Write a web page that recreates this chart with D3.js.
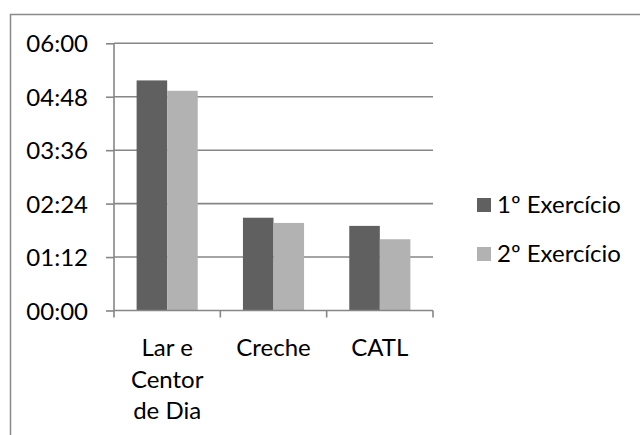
<!DOCTYPE html>
<html>
<head>
<meta charset="utf-8">
<script src="https://cdn.jsdelivr.net/npm/d3@7"></script>
<style>
  html, body { margin: 0; padding: 0; background: #fff; }
  svg { display: block; }
  text { font-family: Lato, "Open Sans", sans-serif; fill: #000; }
</style>
</head>
<body>
<svg id="chart" width="640" height="435"></svg>
<script>
// ---- data ----
const categories = [["Lar e", "Centor", "de Dia"], ["Creche"], ["CATL"]];
const seriesNames = ["1º Exercício", "2º Exercício"];
const series1 = ["05:10", "02:05", "01:54"];
const series2 = ["04:56", "01:58", "01:36"];
const yTicks = ["00:00", "01:12", "02:24", "03:36", "04:48", "06:00"];
const colors = ["#606060", "#b2b2b2"];

const toMin = s => { const [h, m] = s.split(":").map(Number); return h * 60 + m; };

const svg = d3.select("#chart");
const W = 640, H = 435;
const plot = { left: 114, right: 433, top: 43.3, bottom: 310.5 };
const fontSize = 24;

// frame
svg.append("path")
  .attr("d", `M10.5,${H} L10.5,14.5 L${W},14.5`)
  .attr("fill", "none").attr("stroke", "#8a8a8a").attr("stroke-width", 1.5);

const x0 = d3.scaleBand().domain(d3.range(categories.length))
  .range([plot.left, plot.right]).paddingInner(0).paddingOuter(0);
const x1 = d3.scaleBand().domain(d3.range(seriesNames.length))
  .range([0, x0.bandwidth()]).paddingOuter(0.74).paddingInner(0);
const y = d3.scaleLinear().domain([0, 360]).range([plot.bottom, plot.top]);

const grey = "#868686";

// gridlines
svg.append("g").selectAll("line").data(yTicks.map(toMin).filter(v => v > 0)).join("line")
  .attr("x1", plot.left).attr("x2", plot.right)
  .attr("y1", d => y(d)).attr("y2", d => y(d))
  .attr("stroke", grey).attr("stroke-width", 1.6);

// bars
const data = categories.map((c, i) => [toMin(series1[i]), toMin(series2[i])]);
const g = svg.append("g");
data.forEach((vals, i) => {
  g.selectAll(null).data(vals).join("rect")
    .attr("x", (d, j) => x0(i) + x1(j))
    .attr("width", x1.bandwidth())
    .attr("y", d => y(d))
    .attr("height", d => y(0) - y(d))
    .attr("fill", (d, j) => colors[j]);
});

// y axis
const yAxis = d3.axisLeft(y).tickValues(yTicks.map(toMin))
  .tickFormat((d, i) => yTicks[i]).tickSize(8).tickPadding(18);
const ya = svg.append("g").attr("transform", `translate(${plot.left},0)`).call(yAxis);
ya.select(".domain").attr("stroke", grey).attr("stroke-width", 1.6).attr("d", `M0,${plot.top}V${plot.bottom}`);
ya.selectAll(".tick line").attr("stroke", grey).attr("stroke-width", 1.6);
ya.selectAll(".tick text").style("font-size", fontSize + "px").attr("fill", "#000")
  .style("font-family", "Lato, sans-serif").attr("dy", "0.36em");

// x axis
const xa = svg.append("g").attr("transform", `translate(0,${plot.bottom})`);
xa.append("line").attr("x1", plot.left).attr("x2", plot.right)
  .attr("stroke", grey).attr("stroke-width", 1.6);
const bounds = d3.range(categories.length + 1).map(i => plot.left + i * x0.bandwidth());
xa.selectAll("line.tk").data(bounds).join("line").attr("class", "tk")
  .attr("x1", d => d).attr("x2", d => d).attr("y1", 0).attr("y2", 7)
  .attr("stroke", grey).attr("stroke-width", 1.6);
categories.forEach((lines, i) => {
  const t = svg.append("text").attr("text-anchor", "middle").style("font-size", fontSize + "px");
  lines.forEach((ln, k) => {
    t.append("tspan").attr("x", x0(i) + x0.bandwidth() / 2).attr("y", 356 + k * 31.5).text(ln);
  });
});

// legend
const lg = svg.append("g");
seriesNames.forEach((n, i) => {
  const yy = 198 + i * 49;
  lg.append("rect").attr("x", 477).attr("y", yy).attr("width", 14).attr("height", 14).attr("fill", colors[i]);
  lg.append("text").attr("x", 497).attr("y", yy + 15).style("font-size", fontSize + "px").text(n);
});
</script>
</body>
</html>
